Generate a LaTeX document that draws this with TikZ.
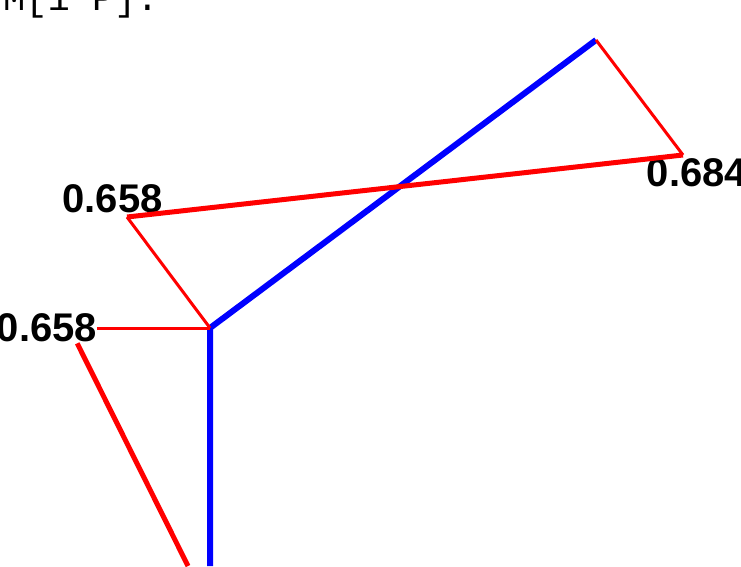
\documentclass[tikz,border=0pt]{standalone}
\usepackage{fontspec}
\setmainfont{Liberation Sans}
\setmonofont{Liberation Mono}
\usepackage{tikz}
\usetikzlibrary{positioning}

\begin{document}
\begin{tikzpicture}[
  x=1pt, y=-1pt,
  every node/.style={inner sep=0pt},
  bond/.style={draw=blue, line width=6pt},
  thinred/.style={draw=red, line width=3pt},
  thickred/.style={draw=red, line width=5pt},
  value/.style={font=\fontsize{40}{40}\selectfont\bfseries, anchor=center}
]
  \useasboundingbox (0,0) rectangle (741,566);
  \clip (0,0) rectangle (741,566);

  \node[anchor=base west, font=\ttfamily\fontsize{37}{37}\selectfont] (title) at (3,10) {M[1 P].};

  \coordinate (base)  at (210,566);
  \coordinate (joint) at (210,328);
  \coordinate (tip)   at (596,40);
  \coordinate (r1)    at (683,155);
  \coordinate (l1)    at (127,217);
  \coordinate (low)   at (188,566);

  \node[value] (v1) at (112.5,199) {0.658};
  \node[value] (v2) at (47,328) {0.658};
  \node[value] (v3) at (697,173) {0.684};

  \draw[bond, line join=miter] (base) -- (joint) -- (tip);
  \draw[thinred] (tip) -- (r1);
  \draw[thickred] (r1) -- (l1);
  \draw[thinred] (l1) -- (joint);
  \draw[thinred] (joint) -- (v2.east);
  \draw[thickred] (v2.south east) ++(-20,1) coordinate (v2b) -- (low);
\end{tikzpicture}
\end{document}
